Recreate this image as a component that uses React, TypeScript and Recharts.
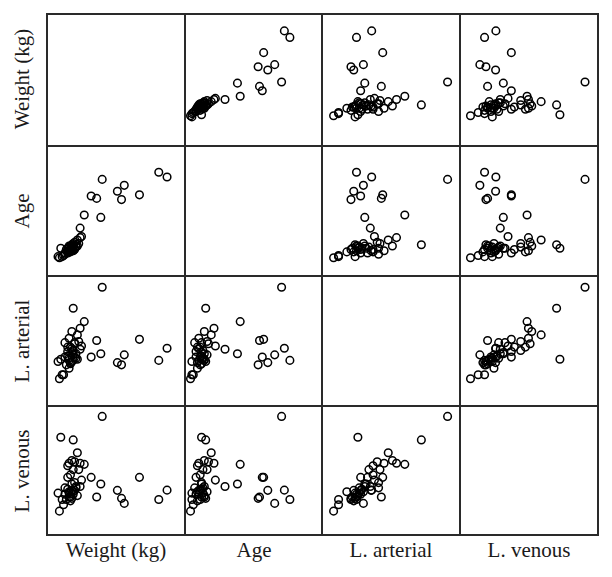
import React from 'react';
import { ScatterChart, Scatter, XAxis, YAxis } from 'recharts';

// one entry per patient
const weightKg = [87, 81, 67, 54, 51, 56, 40, 39, 36, 32, 27, 24, 19, 10, 22, 18, 24, 16, 20, 15, 19, 23, 17, 15, 25, 20, 13, 18, 21, 11, 12, 9, 16, 17, 19, 16, 20, 18, 15, 22, 17, 19, 14, 21, 18, 16, 8, 13];
const ageYears = [14.4, 15.2, 11.4, 10.6, 12.0, 13.0, 14.0, 7.6, 10.8, 11.2, 8.0, 5.8, 3.0, 2.4, 3.8, 2.8, 4.2, 2.0, 3.4, 1.8, 2.6, 3.2, 2.2, 1.6, 4.4, 2.4, 1.4, 2.0, 2.8, 1.0, 1.2, 0.8, 1.8, 2.4, 2.0, 2.6, 2.2, 3.0, 2.4, 2.8, 1.8, 3.2, 2.2, 2.6, 2.4, 2.8, 1.0, 1.6];
const lArterial = [18, 12.5, 22, 10.5, 11.5, 15, 45.5, 15.5, 21.5, 14, 30, 17.5, 36, 13, 24, 25.5, 27, 22.5, 20, 18.5, 17, 21, 18.5, 16.5, 19, 20.5, 20.5, 17.8, 15.5, 6, 6, 4.2, 9, 11, 12.5, 13.5, 14, 12, 14.5, 13, 11.5, 15, 10.5, 13.5, 16, 12.5, 12, 14];
const lVenous = [13, 8.9, 18.6, 9.4, 12.9, 7.2, 45.3, 15.7, 10, 18.6, 24.3, 14.6, 35, 36.2, 29.4, 26, 24.8, 24.8, 25.4, 23.7, 22, 22, 19.7, 18.6, 17.4, 16.3, 14, 12.9, 14.6, 8.9, 6.6, 3.8, 12.3, 10, 11.2, 11.7, 12.9, 9.4, 13.4, 10.6, 8.3, 12.3, 8.9, 14, 15.7, 10, 11.7, 11.2];

const varKeys = ['weight', 'age', 'lArterial', 'lVenous'];
const varLabels = ['Weight (kg)', 'Age', 'L. arterial', 'L. venous'];

const rows = weightKg.map((w, i) => ({
    weight: w,
    age: ageYears[i],
    lArterial: lArterial[i],
    lVenous: lVenous[i],
}));

// axis ranges (the vertical ones carry more room at the bottom)
const xDomains: [number, number][] = [[0, 100], [0, 20], [0, 50], [0, 50]];
const yDomains: [number, number][] = [[-16.9, 102.5], [-2.26, 19.62], [-8.06, 50.56], [-7.09, 49.86]];

const colLeft = [47, 185, 322, 460];
const rowTop = [14, 146, 276, 406];
const cellW = 138;
const cellH = 130;
const vLines = [47, 184.5, 322, 460, 598];
const hLines = [14, 146, 275.5, 406, 535];

const font = '"Liberation Serif", "Times New Roman", serif';

const ring = (props: any) => (
    <circle cx={props.cx} cy={props.cy} r={3.8} fill="none" stroke="#000" strokeWidth={1.5} />
);

function Cell({ row, col }: { row: number; col: number }) {
    if (row === col) return null;
    return (
        <div style={{ position: 'absolute', left: colLeft[col], top: rowTop[row] }}>
            <ScatterChart width={cellW} height={cellH} margin={{ top: 0, right: 0, bottom: 0, left: 0 }}>
                <XAxis type="number" dataKey={varKeys[col]} domain={xDomains[col]} allowDataOverflow hide />
                <YAxis type="number" dataKey={varKeys[row]} domain={yDomains[row]} allowDataOverflow hide />
                <Scatter data={rows} shape={ring} isAnimationActive={false} />
            </ScatterChart>
        </div>
    );
}

export default function App() {
    const cells = [];
    for (let r = 0; r < 4; r++) {
        for (let c = 0; c < 4; c++) {
            cells.push(<Cell key={`${r}-${c}`} row={r} col={c} />);
        }
    }

    return (
        <div style={{ position: 'absolute', left: 0, top: 0, width: 612, height: 577, background: '#fff', fontFamily: font }}>
            {cells}
            {vLines.map(x => (
                <div key={`v${x}`} style={{ position: 'absolute', left: x - 1, top: 13, width: 2, height: 523, background: '#2a2a2a' }} />
            ))}
            {hLines.map(y => (
                <div key={`h${y}`} style={{ position: 'absolute', left: 46, top: y - 1, width: 553, height: 2, background: '#2a2a2a' }} />
            ))}
            {varLabels.map((label, i) => (
                <div
                    key={`b${label}`}
                    style={{
                        position: 'absolute',
                        left: colLeft[i],
                        width: cellW,
                        top: 537,
                        textAlign: 'center',
                        fontSize: 21,
                        lineHeight: '26px',
                        color: '#1a1a1a',
                    }}
                >
                    {label}
                </div>
            ))}
            {varLabels.map((label, i) => (
                <div
                    key={`l${label}`}
                    style={{
                        position: 'absolute',
                        left: 22 - cellH / 2,
                        top: rowTop[i] + cellH / 2 - 13,
                        width: cellH,
                        textAlign: 'center',
                        fontSize: 21,
                        lineHeight: '26px',
                        color: '#1a1a1a',
                        transform: 'rotate(-90deg)',
                    }}
                >
                    {label}
                </div>
            ))}
        </div>
    );
}
